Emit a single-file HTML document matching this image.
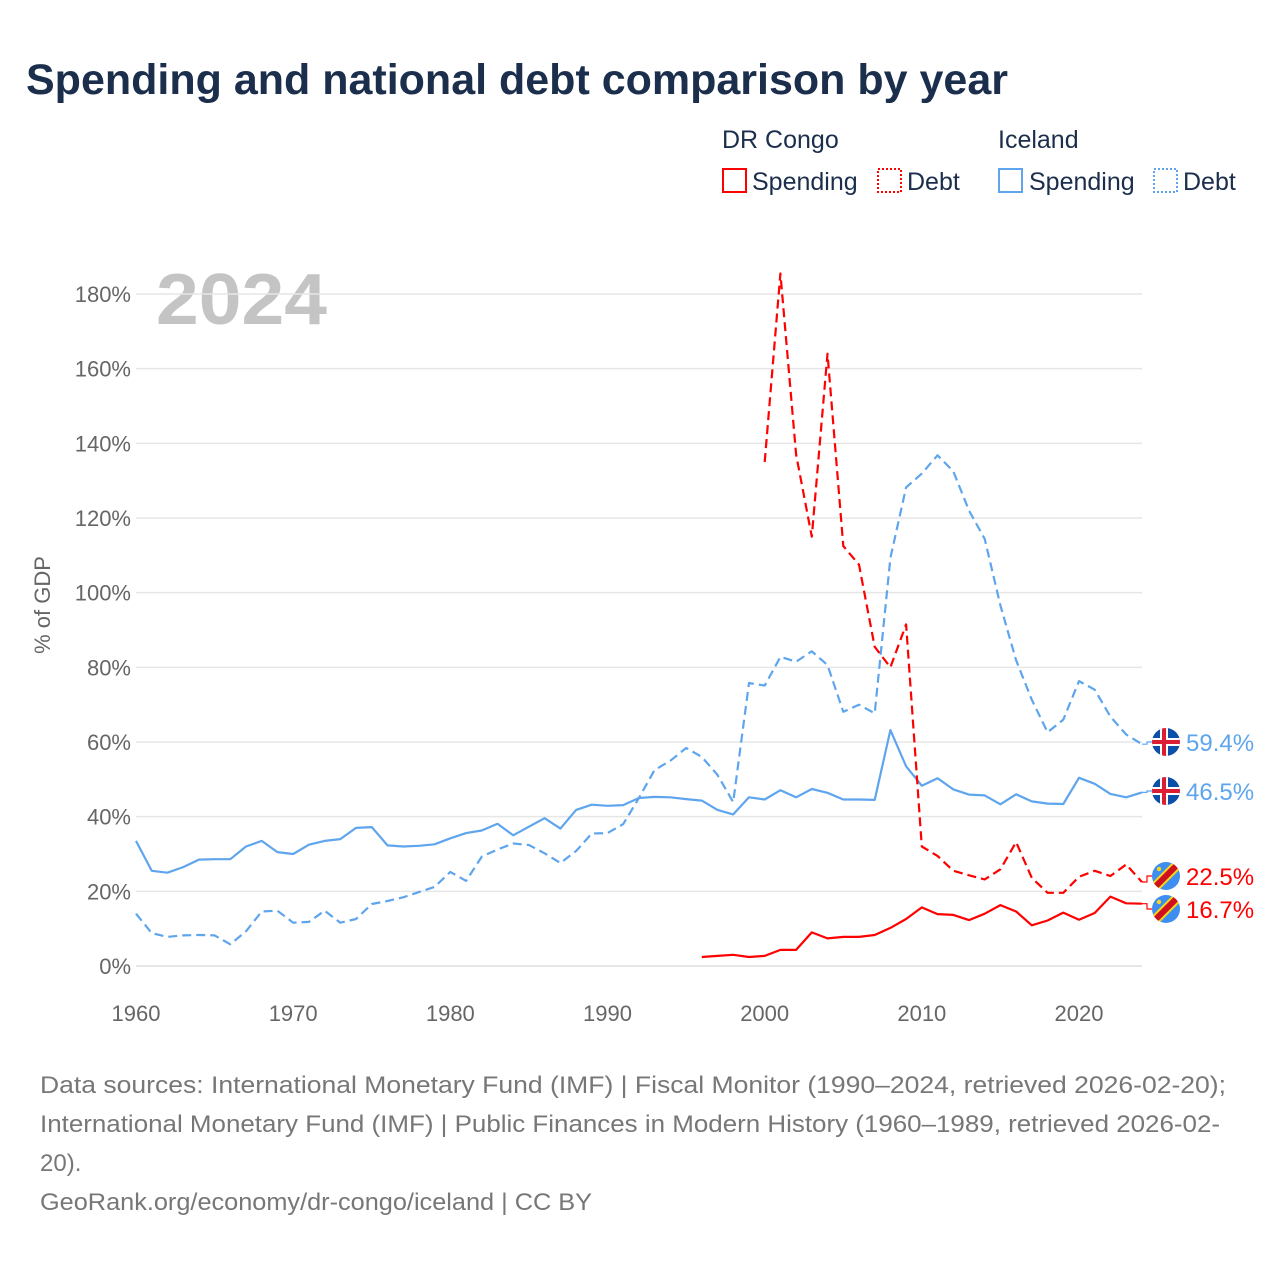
<!DOCTYPE html>
<html><head><meta charset="utf-8">
<style>
body{margin:0;background:#fff;width:1280px;height:1280px;overflow:hidden;font-family:"Liberation Sans",sans-serif}
</style></head>
<body>
<svg id="chart" width="1280" height="1280" xmlns="http://www.w3.org/2000/svg" font-family="Liberation Sans, sans-serif">
<text x="26" y="94" font-size="43" font-weight="bold" fill="#1b2e4c">Spending and national debt comparison by year</text>
<g font-size="25" fill="#1b2e4c">
<text x="722" y="148">DR Congo</text>
<text x="998" y="148">Iceland</text>
<g><rect x="723" y="169" width="23" height="23" fill="none" stroke="#f00" stroke-width="2"/><text x="752" y="190">Spending</text></g>
<g><rect x="878" y="169" width="23" height="23" fill="none" stroke="#f00" stroke-width="2" stroke-dasharray="2,2"/><text x="907" y="190">Debt</text></g>
<g><rect x="999" y="169" width="23" height="23" fill="none" stroke="#5ea5ee" stroke-width="2"/><text x="1029" y="190">Spending</text></g>
<g><rect x="1154" y="169" width="23" height="23" fill="none" stroke="#5ea5ee" stroke-width="2" stroke-dasharray="2,2"/><text x="1183" y="190">Debt</text></g>
</g>
<text x="156" y="324" font-size="72" font-weight="bold" fill="#c4c4c4" textLength="171" lengthAdjust="spacingAndGlyphs">2024</text>
<text transform="translate(50,605) rotate(-90)" text-anchor="middle" font-size="22" fill="#666">% of GDP</text>
<g id="grid"></g><g id="marks"></g><g id="ends"></g>
<g font-size="24" fill="#777">
<text x="40" y="1093" textLength="1186" lengthAdjust="spacingAndGlyphs">Data sources: International Monetary Fund (IMF) | Fiscal Monitor (1990–2024, retrieved 2026-02-20);</text>
<text x="40" y="1132" textLength="1180" lengthAdjust="spacingAndGlyphs">International Monetary Fund (IMF) | Public Finances in Modern History (1960–1989, retrieved 2026-02-</text>
<text x="40" y="1171">20).</text>
<text x="40" y="1210" textLength="552" lengthAdjust="spacingAndGlyphs">GeoRank.org/economy/dr-congo/iceland | CC BY</text>
</g>
</svg>
<script>
const yTicks=[0,20,40,60,80,100,120,140,160,180];
const xTicks=[1960,1970,1980,1990,2000,2010,2020];
const icelandStart=1960;
const icelandSpending=[33.5,25.5,25,26.5,28.5,28.6,28.6,32,33.5,30.5,30,32.5,33.5,34,37,37.2,32.3,32,32.2,32.6,34.2,35.6,36.3,38.1,35,37.3,39.6,36.8,41.8,43.2,42.9,43.1,45,45.3,45.2,44.7,44.3,41.8,40.6,45.2,44.6,47.1,45.2,47.4,46.4,44.6,44.6,44.5,63.2,53.5,48.3,50.3,47.3,45.9,45.7,43.3,46,44.1,43.5,43.4,50.4,48.8,46.1,45.2,46.5];
const icelandDebt=[14,8.8,7.8,8.2,8.3,8.2,5.8,9.3,14.6,14.8,11.6,11.8,14.8,11.6,12.6,16.6,17.4,18.4,19.8,21.2,25.2,22.8,29.3,31.2,32.8,32.4,30.2,27.6,30.8,35.5,35.6,38,45,52.5,55,58.4,56,51.2,43.9,75.8,75.1,82.8,81.5,84.3,80.6,68.1,70,67.7,109.3,128.2,131.9,136.8,132.5,122,114.4,96.6,81.9,71.3,62.6,66,76.3,74,66.8,62,59.4];
const drcSpendingStart=1996;
const drcSpending=[2.4,2.7,3,2.4,2.7,4.3,4.3,9,7.4,7.8,7.8,8.3,10.2,12.6,15.7,13.9,13.7,12.3,14,16.3,14.6,10.9,12.2,14.3,12.4,14.2,18.6,16.8,16.7];
const drcDebtStart=2000;
const drcDebt=[135,185.5,137,115,164,112.5,107.5,85.5,80,91.5,32,29.5,25.5,24.3,23.2,25.9,33.2,23.6,19.6,19.6,23.9,25.5,24.1,27.2,22.5];

const X=yr=>136+(yr-1960)*(1079-136)/60;
const Y=v=>966-v*(966-294)/180;
const NS="http://www.w3.org/2000/svg";
function mk(tag,attrs,parent){const e=document.createElementNS(NS,tag);for(const k in attrs)e.setAttribute(k,attrs[k]);parent.appendChild(e);return e;}
const grid=document.getElementById('grid'),marks=document.getElementById('marks'),ends=document.getElementById('ends');
yTicks.forEach(t=>{
 const l=mk('line',{x1:136,x2:1142,y1:Y(t),y2:Y(t),stroke:t===0?'#ddd':'#e6e6e6','stroke-width':1.5},grid);
 
 
 const tx=mk('text',{x:131,y:Y(t)+8,'text-anchor':'end','font-size':22,fill:'#666'},grid);tx.textContent=t+'%';
 
 
});
xTicks.forEach(t=>{
 const tx=mk('text',{x:X(t),y:1021,'text-anchor':'middle','font-size':22,fill:'#666'},grid);tx.textContent=t;
 
 
});
function series(vals,start,color,dash,name){
 const d=vals.map((v,i)=>(i?'L':'M')+X(start+i).toFixed(1)+','+Y(v).toFixed(1)).join(' ');
 const p=mk('path',{d:d,fill:'none',stroke:color,'stroke-width':2.2,'stroke-linejoin':'round'},marks);
 if(dash)p.setAttribute('stroke-dasharray','9,5');
 
 
}
series(icelandSpending,icelandStart,'#5ea5ee',false,'line-iceland-spending');
series(icelandDebt,icelandStart,'#5ea5ee',true,'line-iceland-debt');
series(drcSpending,drcSpendingStart,'#f00',false,'line-drc-spending');
series(drcDebt,drcDebtStart,'#f00',true,'line-drc-debt');

function flag(cx,cy,type,parent){
 const id='c'+cx+'_'+cy;
 const cp=mk('clipPath',{id:id},parent);mk('circle',{cx:cx,cy:cy,r:14},cp);
 const g=mk('g',{'clip-path':'url(#'+id+')'},parent);
 if(type==='is'){
  mk('rect',{x:cx-14,y:cy-14,width:28,height:28,fill:'#0b4fa8'},g);
  mk('rect',{x:cx-14,y:cy-4,width:28,height:8,fill:'#fff'},g);
  mk('rect',{x:cx-6,y:cy-14,width:8,height:28,fill:'#fff'},g);
  mk('rect',{x:cx-14,y:cy-2,width:28,height:4,fill:'#dc1e35'},g);
  mk('rect',{x:cx-4,y:cy-14,width:4,height:28,fill:'#dc1e35'},g);
 }else{
  mk('rect',{x:cx-14,y:cy-14,width:28,height:28,fill:'#3d8ef0'},g);
  mk('line',{x1:cx-16,y1:cy+16,x2:cx+16,y2:cy-16,stroke:'#f7d618','stroke-width':10},g);
  mk('line',{x1:cx-16,y1:cy+16,x2:cx+16,y2:cy-16,stroke:'#ce1021','stroke-width':6},g);
  mk('circle',{cx:cx-7,cy:cy-7,r:2.2,fill:'#f7d618'},g);
 }
}
const endItems=[
 {v:icelandDebt[icelandDebt.length-1],cy:742,t:'is',c:'#5ea5ee',name:'end-label-iceland-debt'},
 {v:icelandSpending[icelandSpending.length-1],cy:791,t:'is',c:'#5ea5ee',name:'end-label-iceland-spending'},
 {v:drcDebt[drcDebt.length-1],cy:876,t:'cd',c:'#f00',name:'end-label-drc-debt'},
 {v:drcSpending[drcSpending.length-1],cy:909,t:'cd',c:'#f00',name:'end-label-drc-spending'}];
endItems.forEach(e=>{
 const g=mk('g',{},ends);
 
 
 mk('path',{d:'M1142,'+Y(e.v).toFixed(1)+' L1147,'+Y(e.v).toFixed(1)+' L1147,'+e.cy+' L1152,'+e.cy,fill:'none',stroke:e.c,'stroke-width':1.2},g);
 flag(1166,e.cy,e.t,g);
 const tx=mk('text',{x:1186,y:e.cy+9,'font-size':24,fill:e.c},g);tx.textContent=e.v.toFixed(1)+'%';
});
</script>
</body></html>
